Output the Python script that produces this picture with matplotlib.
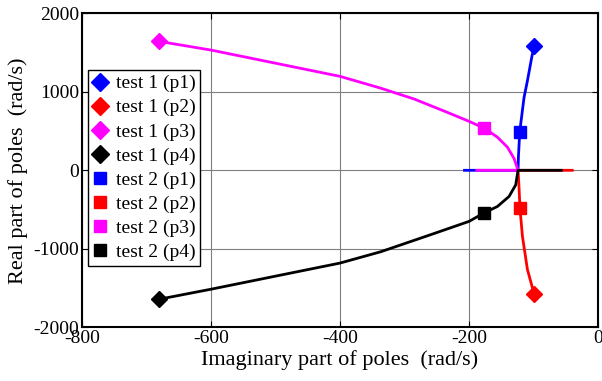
import numpy as np
import matplotlib.pyplot as plt
from matplotlib.lines import Line2D

plt.rcParams['font.family'] = ['Liberation Serif', 'DejaVu Serif']
plt.rcParams['axes.unicode_minus'] = False

# pole loci (x: imaginary part, y: real part)
p1_x = [-207, -124, -123.4, -121.4, -114.7, -109.5, -102.8, -99]
p1_y = [0, 0, 172, 489, 928, 1139, 1438, 1586]
p2_x = [-40, -124, -122.5, -121, -117.2, -109.5, -99]
p2_y = [0, 0, -211, -484, -840, -1262, -1578]
p3_x = [-188, -124, -130, -140.5, -156, -176, -200, -233.5, -285, -337, -400, -600, -680]
p3_y = [0, 0, 148, 295, 422, 535, 624, 738, 908, 1047, 1197, 1532, 1642]
p4_x = [-57, -124, -127.6, -138, -156, -176, -200, -259, -337, -400, -600, -680]
p4_y = [0, 0, -186, -334, -461, -540, -651, -819, -1038, -1182, -1515, -1642]

# test 1 end points (diamonds) and test 2 points (squares)
t1_x = [-99, -99, -680, -680]
t1_y = [1586, -1578, 1642, -1642]
t2_x = [-121.4, -121, -176, -176]
t2_y = [489, -484, 535, -540]

colors = ['blue', 'red', 'magenta', 'black']
names = ['p1', 'p2', 'p3', 'p4']

fig = plt.figure(figsize=(6.02, 3.81), dpi=100)
ax = fig.add_axes([0.1362, 0.141, 0.8572, 0.824])

for xs, ys, c in zip([p1_x, p2_x, p3_x, p4_x], [p1_y, p2_y, p3_y, p4_y], colors):
    ax.plot(xs, ys, color=c, lw=2.0, zorder=3, solid_joinstyle='round')

for i, c in enumerate(colors):
    ax.plot(t1_x[i], t1_y[i], marker='D', ms=8, color=c, ls='none', zorder=4)
    ax.plot(t2_x[i], t2_y[i], marker='s', ms=8, color=c, ls='none', zorder=4)

ax.set_xlim(-800, 0)
ax.set_ylim(-2000, 2000)
ax.set_xticks([-800, -600, -400, -200, 0])
ax.set_yticks([-2000, -1000, 0, 1000, 2000])
ax.grid(True, color='#7f7f7f', lw=0.8, ls='-')
ax.set_axisbelow(True)
ax.tick_params(direction='in', top=True, right=True, labelsize=14, length=4, pad=2)
for s in ax.spines.values():
    s.set_linewidth(1.5)

ax.set_xlabel('Imaginary part of poles  (rad/s)', fontsize=16, labelpad=2)
ax.set_ylabel('Real part of poles  (rad/s)', fontsize=16, labelpad=4)

handles = []
for i, c in enumerate(colors):
    handles.append(Line2D([], [], marker='D', ms=9, color=c, ls='none', label='test 1 (' + names[i] + ')'))
for i, c in enumerate(colors):
    handles.append(Line2D([], [], marker='s', ms=8, color=c, ls='none', label='test 2 (' + names[i] + ')'))
leg = ax.legend(handles=handles, loc='upper left', bbox_to_anchor=(0.011, 0.82), fontsize=14,
                frameon=True, fancybox=False, framealpha=1, edgecolor='black',
                handlelength=0.8, handletextpad=0.4, labelspacing=0.33, borderpad=0.25,
                borderaxespad=0)
leg.get_frame().set_linewidth(1.0)

fig.savefig('out.png', dpi=100)
